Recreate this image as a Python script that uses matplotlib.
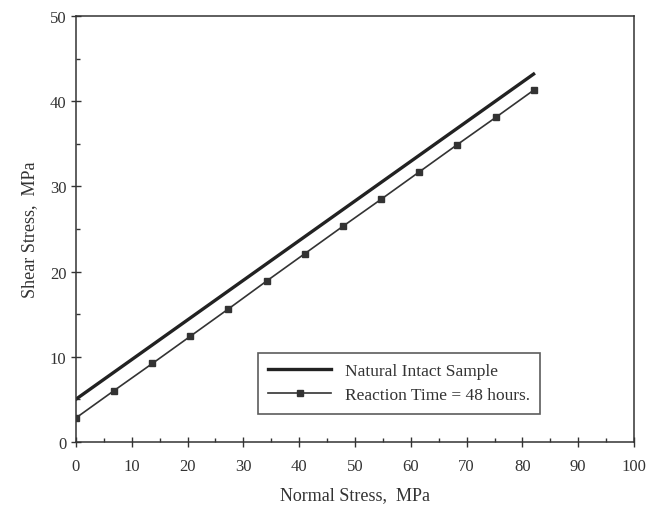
import matplotlib.pyplot as plt
from matplotlib.ticker import MultipleLocator

# Mohr-Coulomb envelopes: intact sample vs. sample after 48 h reaction
normal_intact = [0, 82]
shear_intact = [5.0, 43.2]

normal_reacted = [0, 6.8, 13.7, 20.5, 27.3, 34.2, 41.0, 47.8, 54.7, 61.5, 68.3, 75.2, 82.0]
shear_reacted = [2.8, 6.0, 9.2, 12.4, 15.6, 18.9, 22.1, 25.3, 28.5, 31.7, 34.9, 38.1, 41.3]

plt.rcParams['font.family'] = ['Liberation Serif', 'DejaVu Serif']

fig = plt.figure(figsize=(6.55, 5.06), dpi=100)
ax = fig.add_axes([0.116, 0.125, 0.852, 0.841])

ax.plot(normal_intact, shear_intact, color='#222222', linewidth=2.4,
        label='Natural Intact Sample')
ax.plot(normal_reacted, shear_reacted, color='#333333', linewidth=1.2,
        marker='s', markersize=5, label='Reaction Time = 48 hours.')

ax.set_xlim(0, 100)
ax.set_ylim(0, 50)
ax.xaxis.set_major_locator(MultipleLocator(10))
ax.xaxis.set_minor_locator(MultipleLocator(5))
ax.yaxis.set_major_locator(MultipleLocator(10))
ax.yaxis.set_minor_locator(MultipleLocator(5))
ax.tick_params(which='major', direction='inout', length=7, width=1, labelsize=12,
               colors='#333333')
ax.tick_params(axis='x', which='major', pad=8)
ax.tick_params(which='minor', direction='in', length=3, width=1, colors='#333333')

for s in ax.spines.values():
    s.set_color('#333333')
    s.set_linewidth(1.1)

ax.set_xlabel('Normal Stress,  MPa', fontsize=13, color='#333333', labelpad=9)
ax.set_ylabel('Shear Stress,  MPa', fontsize=13, color='#333333', labelpad=8)

leg = ax.legend(loc='lower left', bbox_to_anchor=(0.326, 0.066), borderaxespad=0,
                fontsize=12.5, frameon=True, fancybox=False, edgecolor='#333333',
                handlelength=3.6, borderpad=0.6, labelspacing=0.45)
leg.get_frame().set_linewidth(1.2)
for t in leg.get_texts():
    t.set_color('#333333')

fig.savefig('out.png', dpi=100)
